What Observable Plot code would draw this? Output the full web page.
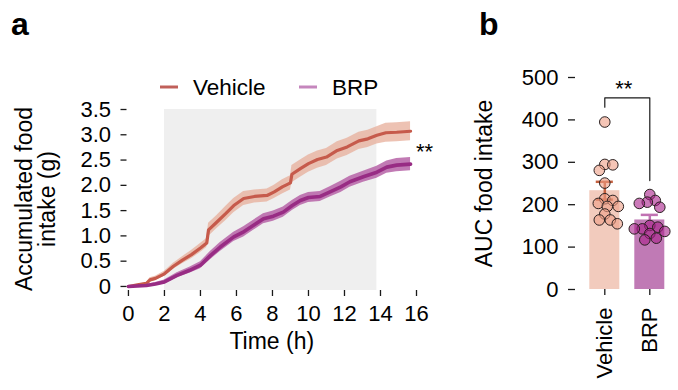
<!DOCTYPE html>
<html>
<head>
<meta charset="utf-8">
<script src="https://cdn.jsdelivr.net/npm/d3@7"></script>
<script src="https://cdn.jsdelivr.net/npm/@observablehq/plot@0.6"></script>
<style>
  html, body { margin: 0; padding: 0; background: #fff; }
  #wrap { position: relative; width: 678px; height: 390px; overflow: hidden; font-family: "Liberation Sans", Arial, sans-serif; }
  #wrap .panel { position: absolute; top: 0; }
  #overlay { position: absolute; left: 0; top: 0; pointer-events: none; }
</style>
</head>
<body>
<div id="wrap">
  <div id="pa" class="panel" style="left:0"></div>
  <div id="pb" class="panel" style="left:440px"></div>
  <svg id="overlay" width="678" height="390" font-family="Liberation Sans, Arial, sans-serif">
    <text x="11" y="35" font-size="32" font-weight="bold">a</text>
    <text x="479" y="35" font-size="32" font-weight="bold">b</text>
    <line x1="160" x2="178" y1="87" y2="87" stroke="#c0605a" stroke-width="3"></line>
    <text x="193" y="95" font-size="22.5">Vehicle</text>
    <line x1="299" x2="317" y1="87" y2="87" stroke="#c586bd" stroke-width="3"></line>
    <text x="332" y="95" font-size="22.5">BRP</text>
  </svg>
</div>
<script>
// ---------- Panel a: accumulated food intake (g) over time (h) ----------
const lightPhase = [2, 13.8];

const vehicleTime = [0, 0.5, 1.0, 1.2, 1.5, 2.0, 2.5, 3.0, 3.5, 4.0, 4.35, 4.45, 4.9, 5.4, 5.85, 6.4, 7.0, 7.7, 8.1, 8.55, 9.0, 9.08, 9.55, 10.0, 10.5, 11.0, 11.6, 12.15, 12.8, 13.3, 13.8, 14.3, 14.9, 15.67];
const vehicleMean = [0, 0.03, 0.06, 0.13, 0.16, 0.25, 0.40, 0.52, 0.63, 0.76, 0.86, 1.12, 1.27, 1.44, 1.60, 1.74, 1.78, 1.80, 1.87, 1.97, 2.05, 2.22, 2.33, 2.43, 2.51, 2.56, 2.69, 2.76, 2.88, 2.92, 2.99, 3.04, 3.05, 3.07];
const vehicleSem  = [0, 0.01, 0.02, 0.04, 0.04, 0.05, 0.06, 0.07, 0.08, 0.09, 0.09, 0.13, 0.13, 0.14, 0.14, 0.14, 0.13, 0.13, 0.13, 0.14, 0.14, 0.17, 0.17, 0.17, 0.17, 0.17, 0.17, 0.17, 0.17, 0.17, 0.17, 0.19, 0.19, 0.19];

const brpTime = [0, 0.5, 1.0, 1.5, 2.0, 2.7, 3.4, 4.0, 4.55, 5.1, 5.85, 6.4, 6.95, 7.5, 8.05, 8.6, 9.1, 9.55, 10.0, 10.65, 11.2, 11.8, 12.3, 13.05, 13.8, 14.35, 14.9, 15.67];
const brpMean = [0, 0.01, 0.02, 0.05, 0.09, 0.22, 0.32, 0.42, 0.61, 0.78, 0.98, 1.08, 1.21, 1.34, 1.39, 1.47, 1.60, 1.70, 1.76, 1.78, 1.87, 1.97, 2.07, 2.17, 2.26, 2.36, 2.40, 2.42];
const brpSem  = [0, 0.01, 0.02, 0.03, 0.04, 0.05, 0.06, 0.07, 0.08, 0.09, 0.09, 0.10, 0.10, 0.10, 0.10, 0.10, 0.10, 0.10, 0.10, 0.10, 0.10, 0.11, 0.11, 0.11, 0.12, 0.12, 0.13, 0.13];

const xTicksA = [0, 2, 4, 6, 8, 10, 12, 14, 16];
const yTicksA = [0, 0.5, 1.0, 1.5, 2.0, 2.5, 3.0, 3.5];

// ---------- Panel b: AUC food intake ----------
const groups = ["Vehicle", "BRP"];
const aucMean = [233, 164];
const aucSem = [21, 12];
const vehicleAUC = [395, 295, 294, 281, 251, 214, 210, 196, 196, 203, 178, 155, 164, 164];
const brpAUC = [224, 206, 194, 203, 210, 151, 147, 137, 143, 143, 121, 117, 132];
const yTicksB = [0, 100, 200, 300, 400, 500];
const bracket = {left: 430, top: 452, right: 257, label: "**"};

const series = (t, m, s, name) => t.map((x, i) => ({x, m: m[i], lo: m[i] - s[i], hi: m[i] + s[i], name}));
const veh = series(vehicleTime, vehicleMean, vehicleSem, "Vehicle");
const brp = series(brpTime, brpMean, brpSem, "BRP");

const font = "Liberation Sans, Arial, sans-serif";
const ink = "#1a1a1a";

const chartA = Plot.plot({
  width: 440, height: 390,
  marginLeft: 126.5, marginRight: 24, marginTop: 109, marginBottom: 100,
  x: {domain: [-0.08, 16]},
  y: {domain: [-0.08, 3.5]},
  style: {fontFamily: font, fontSize: "22px", color: "#000", background: "transparent", overflow: "visible"},
  marks: [
    Plot.rect([lightPhase], {x1: d => d[0], x2: d => d[1], y1: -0.08, y2: 3.5, fill: "#efefef"}),
    Plot.areaY(veh, {x: "x", y1: "lo", y2: "hi", fill: "#e7ad99", fillOpacity: 0.75}),
    Plot.line(veh, {x: "x", y: "m", stroke: "#c65a4b", strokeWidth: 3.2}),
    Plot.areaY(brp, {x: "x", y1: "lo", y2: "hi", fill: "#b663a7", fillOpacity: 0.85}),
    Plot.line(brp, {x: "x", y: "m", stroke: "#982c84", strokeWidth: 3.6}),
    Plot.axisX({ticks: xTicksA, tickSize: 6, tickPadding: 9, line: true, stroke: ink, strokeWidth: 1.3, label: null}),
    Plot.axisY({ticks: yTicksA, tickSize: 6, tickPadding: 10, line: true, stroke: ink, strokeWidth: 1.3, label: null,
      tickFormat: d => d === 0 ? "0" : d.toFixed(1)}),
    Plot.text(["Time (h)"], {frameAnchor: "bottom", dy: 58, fontSize: 23, fill: "#000"}),
    Plot.text(["Accumulated food\nintake (g)"], {frameAnchor: "left", textAnchor: "middle", rotate: -90, dx: -91, dy: -1, fontSize: 23, lineHeight: 1.0, fill: "#000"}),
    Plot.text(["**"], {x: 16.45, y: 2.66, fontSize: 22, fill: "#000"})
  ]
});
document.getElementById("pa").appendChild(chartA);

// beeswarm offsets (in x-scale units) computed from values
const heightB = 390, marginTopB = 77, marginBottomB = 101, yMaxB = 500;
const pxPerUnitY = (heightB - marginTopB - marginBottomB) / yMaxB;
const pxPerUnitX = 45, r = 5.3;
function swarm(values, gi, name) {
  const placed = [];
  const order = values.map((v, i) => i).sort((a, b) => values[b] - values[a]);
  const out = [];
  for (const i of order) {
    const py = values[i] * pxPerUnitY;
    let best = 0;
    const cands = [0];
    for (let k = 1; k <= 40; k++) { cands.push(k * 0.5, -k * 0.5); }
    for (const c of cands) {
      if (placed.every(p => Math.hypot(p.px - c, p.py - py) >= 2 * r * 0.75)) { best = c; break; }
    }
    placed.push({px: best, py});
    out.push({x: gi + best / pxPerUnitX, y: values[i], name});
  }
  return out;
}
const dotsV = swarm(vehicleAUC, 0, "Vehicle");
const dotsB = swarm(brpAUC, 1, "BRP");
const summ = groups.map((g, i) => ({i, g, mean: aucMean[i], lo: aucMean[i] - aucSem[i], hi: aucMean[i] + aucSem[i]}));
const barFill = ["#f2cbbd", "#c07ab5"];
const errCol = ["#c4603f", "#c172b3"];
const bracketPath = [{x: 0, y: bracket.left}, {x: 0, y: bracket.top}, {x: 1, y: bracket.top}, {x: 1, y: bracket.right}];

const chartB = Plot.plot({
  width: 238, height: heightB,
  marginLeft: 135, marginRight: 3, marginTop: marginTopB, marginBottom: marginBottomB,
  x: {domain: [0, 1], range: [164.3, 209.3]},
  y: {domain: [0, yMaxB]},
  style: {fontFamily: font, fontSize: "22px", color: "#000", background: "transparent", overflow: "visible"},
  marks: [
    Plot.rectY(summ, {x1: d => d.i - 1/3, x2: d => d.i + 1/3, y: "mean", fill: d => barFill[d.i]}),
    Plot.ruleX(summ, {x: "i", y1: "lo", y2: "hi", stroke: d => errCol[d.i], strokeWidth: 2.5}),
    Plot.ruleY(summ, {y: "hi", x1: d => d.i - 0.19, x2: d => d.i + 0.19, stroke: d => errCol[d.i], strokeWidth: 2.5}),
    Plot.ruleY(summ, {y: "lo", x1: d => d.i - 0.19, x2: d => d.i + 0.19, stroke: d => errCol[d.i], strokeWidth: 2.5}),
    Plot.dot(dotsV, {x: "x", y: "y", r, fill: "#ee9f85", fillOpacity: 0.6, stroke: "#2a2020", strokeWidth: 1}),
    Plot.dot(dotsB, {x: "x", y: "y", r, fill: "#a8208a", fillOpacity: 0.6, stroke: "#2a2020", strokeWidth: 1}),
    Plot.line(bracketPath, {x: "x", y: "y", stroke: ink, strokeWidth: 1.2}),
    Plot.text([bracket.label], {x: 0.42, y: 474, fontSize: 22, fill: "#000"}),
    Plot.axisX({ticks: [0, 1], tickFormat: d => groups[d], tickSize: 6, tickPadding: 12, tickRotate: -90, line: true, stroke: ink, strokeWidth: 1.3, label: null}),
    Plot.axisY({ticks: yTicksB, tickSize: 7, tickPadding: 10, line: true, stroke: ink, strokeWidth: 1.3, label: null}),
    Plot.text(["AUC food intake"], {frameAnchor: "left", textAnchor: "middle", rotate: -90, dx: -91, fontSize: 23, fill: "#000"})
  ]
});
document.getElementById("pb").appendChild(chartB);
</script>
</body>
</html>
